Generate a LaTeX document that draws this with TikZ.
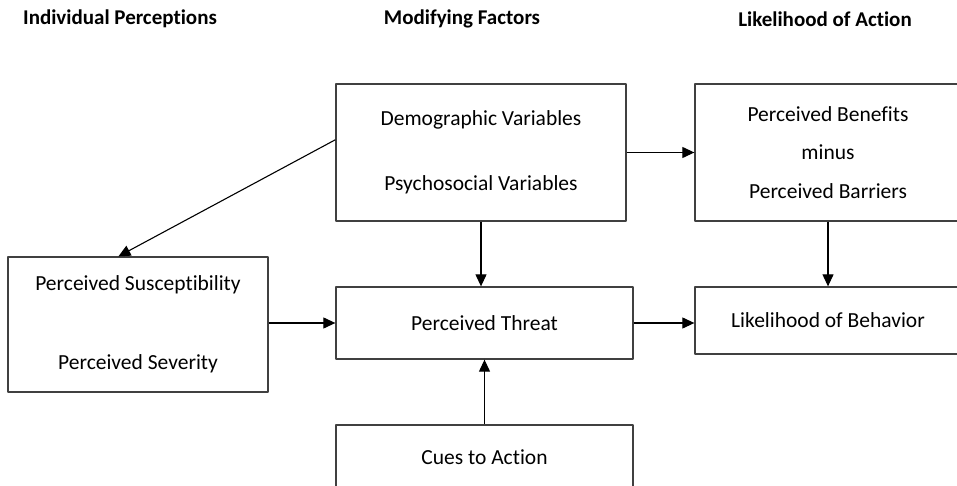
\documentclass[tikz,border=0pt]{standalone}
\usepackage{fontspec}
\setmainfont{Carlito}[Ligatures=NoCommon]
\usetikzlibrary{arrows.meta}
\begin{document}
\begin{tikzpicture}[x=1pt, y=-1pt, font=\fontsize{21.5}{26}\selectfont, line join=round,
	>={Triangle[length=12pt,width=11pt]},
	box/.style={draw=black!75, line width=1.3pt, inner sep=0pt, align=center},
	head/.style={font=\fontsize{21}{25}\selectfont\bfseries},
	arr/.style={->, line width=1.1pt}]

	\useasboundingbox (0,0) rectangle (957,486);

	%\draw[gray!10] (0,0) grid[step=50] (957,486);
	\node[head] (hI) at (120,19) {Individual Perceptions};
	\node[head] (hM) at (462,19) {Modifying Factors};
	\node[head] (hL) at (825,19) {Likelihood of Action};

	\node[box, minimum width=290pt, minimum height=137pt] (demo) at (481,152.5) {Demographic Variables\\[39pt]Psychosocial Variables};
	\node[box, minimum width=266pt, minimum height=137pt] (ben) at (828,152.5) {Perceived Benefits\\[12.5pt]minus\\[12.5pt]Perceived Barriers};
	\node[box, minimum width=260pt, minimum height=135pt] (susc) at (138,324.5) {Perceived Susceptibility\\[53pt]Perceived Severity};
	\node[box, minimum width=297pt, minimum height=72pt] (thr) at (484.5,323) {Perceived Threat};
	\node[box, minimum width=266pt, minimum height=67pt] (like) at (828,320.5) {Likelihood of Behavior};
	\node[box, minimum width=297pt, minimum height=64pt] (cues) at (484.5,457) {Cues to Action};

	\draw[arr] (demo.east) -- (demo.east -| ben.west);
	\draw[arr] (demo.175) -- (susc.106);
	\draw[arr] (demo.south) -- (demo.south |- thr.north);
	\draw[arr] (ben.south) -- (like.north);
	\draw[arr] (thr.west -| susc.east) -- (thr.west);
	\draw[arr] (thr.east) -- (thr.east -| like.west);
	\draw[arr] (cues.north) -- (thr.south);
\end{tikzpicture}
\end{document}
